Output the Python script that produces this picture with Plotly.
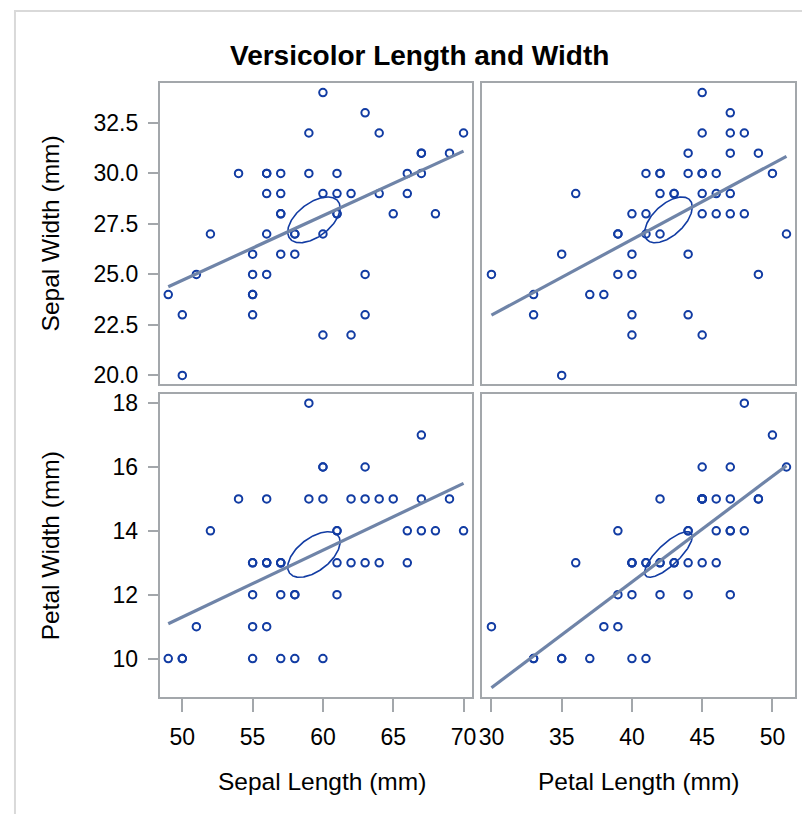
import numpy as np
import plotly.graph_objects as go

# Iris versicolor measurements (mm)
sepal_length = [70,64,69,55,65,57,63,49,66,52,50,59,60,61,56,67,56,58,62,56,59,61,63,61,64,66,68,67,60,57,55,55,58,60,54,60,67,63,56,55,55,61,58,50,56,57,57,62,51,57]
sepal_width = [32,32,31,23,28,28,33,24,29,27,20,30,22,29,29,31,30,27,22,25,32,28,25,28,29,30,28,30,29,26,24,24,27,27,30,34,31,23,30,25,26,30,26,23,27,30,29,29,25,28]
petal_length = [47,45,49,40,46,45,47,33,46,39,35,42,40,47,36,44,45,41,45,39,48,40,49,47,43,44,48,50,45,35,38,37,39,51,45,45,47,44,41,40,44,46,40,33,42,42,42,43,30,41]
petal_width = [14,15,15,13,15,13,16,10,13,14,10,15,10,14,13,14,15,10,15,11,18,13,15,12,13,14,14,17,15,10,11,10,12,16,15,16,15,13,13,13,12,14,12,10,13,12,13,13,11,13]

x_ticks_sl = [50, 55, 60, 65, 70]
x_ticks_pl = [30, 35, 40, 45, 50]
y_ticks_sw = [20.0, 22.5, 25.0, 27.5, 30.0, 32.5]
y_ticks_pw = [10, 12, 14, 16, 18]

W, H = 810, 814
OFF = 8  # default page body margin
FONT = "Liberation Sans, Arial, sans-serif"
MARK = "#123ca3"
FIT = "#6f84a8"
AX = "#a3a7ab"

def px(x):
    return (x - OFF) / W

def py(y):
    return 1 - (y - OFF) / H

fig = go.Figure()

panels = [
    (sepal_length, sepal_width, "x", "y"),
    (petal_length, sepal_width, "x2", "y2"),
    (sepal_length, petal_width, "x3", "y3"),
    (petal_length, petal_width, "x4", "y4"),
]

# 95% confidence ellipse for the mean, p=2
n = len(sepal_length)
p = 2
alpha = 0.05
fq = ((n - p) / 2.0) * (alpha ** (-2.0 / (n - p)) - 1)
c = p * (n - 1) / (n * (n - p)) * fq
t = np.linspace(0, 2 * np.pi, 200)

for xd, yd, xa, ya in panels:
    xd = np.array(xd, float)
    yd = np.array(yd, float)
    fig.add_trace(go.Scatter(x=xd, y=yd, mode="markers", xaxis=xa, yaxis=ya,
                             marker=dict(symbol="circle-open", size=7.5, color=MARK,
                                         line=dict(width=2, color=MARK)),
                             showlegend=False, hoverinfo="x+y"))
    cov = np.cov(np.vstack([xd, yd]))
    L = np.linalg.cholesky(cov)
    pts = np.sqrt(c) * (L @ np.vstack([np.cos(t), np.sin(t)]))
    fig.add_trace(go.Scatter(x=xd.mean() + pts[0], y=yd.mean() + pts[1], mode="lines",
                             xaxis=xa, yaxis=ya, line=dict(color=MARK, width=1.6),
                             showlegend=False, hoverinfo="skip"))
    b, a = np.polyfit(xd, yd, 1)
    xs = np.array([xd.min(), xd.max()])
    fig.add_trace(go.Scatter(x=xs, y=a + b * xs, mode="lines", xaxis=xa, yaxis=ya,
                             line=dict(color=FIT, width=3.2), showlegend=False,
                             hoverinfo="skip"))

xl = [px(157), px(473)]
xr = [px(483), px(799)]
yt = [py(384), py(80)]
yb = [py(700), py(394)]

base = dict(showline=True, mirror=True, linecolor=AX, linewidth=1.5, showgrid=False,
            zeroline=False, tickcolor=AX, tickwidth=1.5,
            tickfont=dict(family=FONT, size=23, color="#000000"))

def ax(domain, rng, anchor, show, tickvals=None, fmt=None, ticklen=10, standoff=2):
    d = dict(base)
    d.update(domain=domain, range=rng, anchor=anchor)
    if show:
        d.update(ticks="outside", ticklen=ticklen, tickvals=tickvals, showticklabels=True,
                 ticklabelstandoff=standoff)
        if fmt:
            d.update(tickformat=fmt)
    else:
        d.update(ticks="", showticklabels=False)
    return d

rx_sl = [48.38, 70.63]
rx_pl = [29.35, 51.62]
ry_sw = [19.56, 34.46]
ry_pw = [8.79, 18.28]

fig.update_layout(
    width=W, height=H,
    margin=dict(l=0, r=0, t=0, b=0),
    paper_bgcolor="white", plot_bgcolor="white",
    xaxis=ax(xl, rx_sl, "y", False),
    yaxis=ax(yt, ry_sw, "x", True, y_ticks_sw, ".1f", 10, 5),
    xaxis2=ax(xr, rx_pl, "y2", False),
    yaxis2=ax(yt, ry_sw, "x2", False),
    xaxis3=ax(xl, rx_sl, "y3", True, x_ticks_sl, None, 13, 5),
    yaxis3=ax(yb, ry_pw, "x3", True, y_ticks_pw, None, 10, 5),
    xaxis4=ax(xr, rx_pl, "y4", True, x_ticks_pl, None, 13, 5),
    yaxis4=ax(yb, ry_pw, "x4", False),
    font=dict(family=FONT, color="#000000"),
    shapes=[dict(type="rect", xref="paper", yref="paper", x0=px(11), y0=-0.2,
                 x1=1.2, y1=py(7), line=dict(color="#d9d9d9", width=2))],
    annotations=[
        dict(text="<b>Versicolor Length and Width</b>", x=px(420), y=py(52), xref="paper",
             yref="paper", showarrow=False, xanchor="center", yanchor="middle",
             font=dict(family=FONT, size=28, color="#000000")),
        dict(text="Sepal Width (mm)", x=px(47), y=py(232), xref="paper", yref="paper",
             showarrow=False, textangle=-90, xanchor="center", yanchor="middle",
             font=dict(family=FONT, size=24.5)),
        dict(text="Petal Width (mm)", x=px(47), y=py(547), xref="paper", yref="paper",
             showarrow=False, textangle=-90, xanchor="center", yanchor="middle",
             font=dict(family=FONT, size=24.5)),
        dict(text="Sepal Length (mm)", x=px(321), y=py(785), xref="paper", yref="paper",
             showarrow=False, xanchor="center", yanchor="middle",
             font=dict(family=FONT, size=24.5)),
        dict(text="Petal Length (mm)", x=px(641), y=py(785), xref="paper", yref="paper",
             showarrow=False, xanchor="center", yanchor="middle",
             font=dict(family=FONT, size=24.5)),
    ],
)

fig.write_html("out.html")
